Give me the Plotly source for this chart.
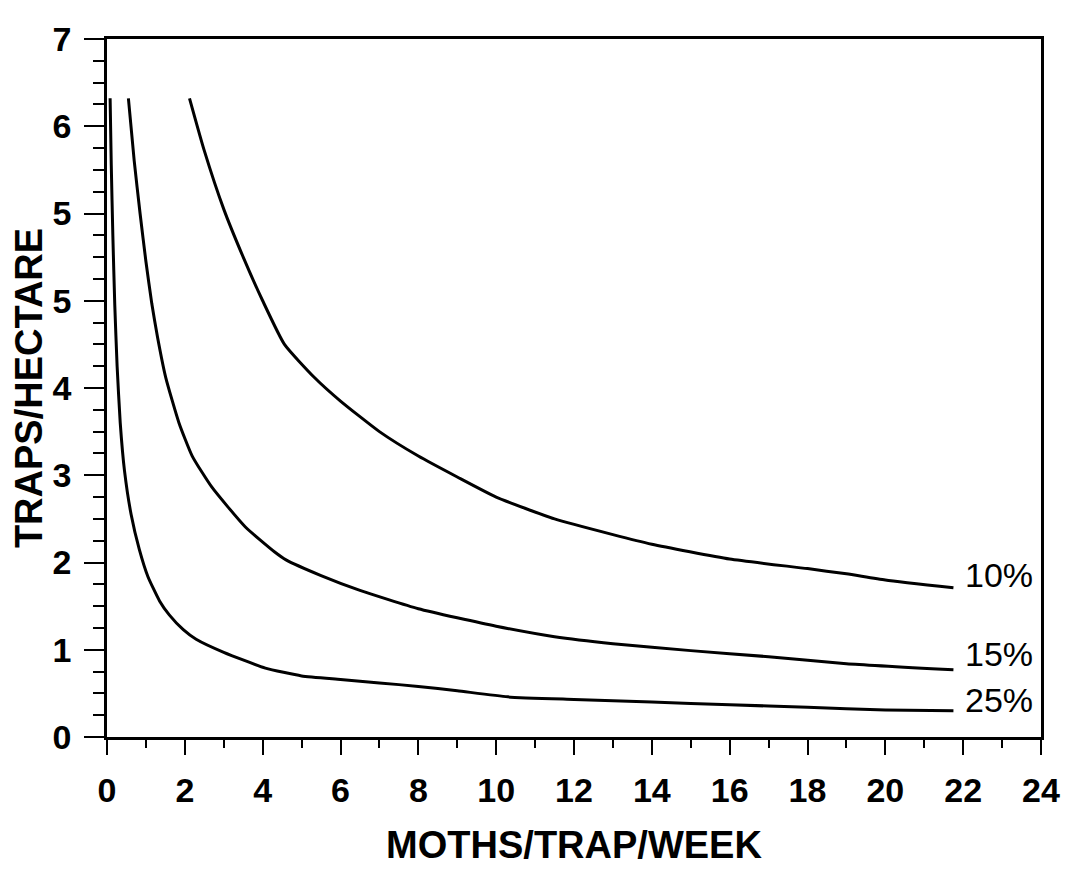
import plotly.graph_objects as go

# ---- data (x = moths/trap/week, y = linear axis units; y tick labels as printed) ----
x10 = [2.12, 2.5, 3.0, 3.5, 4.0, 4.56, 5.33, 6.0, 7.0, 8.0, 9.0, 10.0, 11.5, 13.0, 14.0, 16.0, 18.0, 19.0, 20.0, 21.75]
y10 = [7.32, 6.72, 6.05, 5.5, 5.0, 4.5, 4.12, 3.85, 3.5, 3.22, 2.98, 2.75, 2.5, 2.32, 2.21, 2.04, 1.93, 1.87, 1.8, 1.71]

x15 = [0.55, 0.7, 0.85, 1.0, 1.15, 1.3, 1.51, 1.85, 2.19, 2.7, 3.55, 4.31, 4.6, 5.5, 6.5, 8.0, 10.0, 11.5, 13.0, 15.0, 17.0, 19.0, 21.75]
y15 = [7.32, 6.6, 6.0, 5.45, 4.97, 4.58, 4.12, 3.6, 3.22, 2.86, 2.41, 2.12, 2.03, 1.85, 1.68, 1.47, 1.27, 1.15, 1.07, 0.99, 0.92, 0.84, 0.77]

x25 = [0.08, 0.11, 0.15, 0.2, 0.26, 0.34, 0.45, 0.62, 0.83, 1.05, 1.35, 1.6, 1.96, 2.29, 3.0, 4.07, 5.0, 6.0, 7.0, 8.0, 9.0, 10.3, 12.0, 14.0, 16.0, 18.0, 20.0, 21.75]
y25 = [7.32, 6.55, 5.75, 4.95, 4.25, 3.6, 3.05, 2.55, 2.15, 1.84, 1.56, 1.4, 1.23, 1.12, 0.97, 0.79, 0.70, 0.66, 0.62, 0.58, 0.53, 0.46, 0.43, 0.40, 0.37, 0.34, 0.31, 0.30]

curve_labels = ["10%", "15%", "25%"]
label_x = [22.0, 22.0, 22.0]
label_y = [1.86, 0.95, 0.42]

x_ticks = list(range(0, 25, 2))
y_tickvals = [0, 1, 2, 3, 4, 5, 6, 7, 8]
y_ticktext = ["0", "1", "2", "3", "4", "5", "5", "6", "7"]

x_title = "MOTHS/TRAP/WEEK"
y_title = "TRAPS/HECTARE"

fig = go.Figure()
for xs, ys in [(x10, y10), (x15, y15), (x25, y25)]:
    fig.add_trace(go.Scatter(x=xs, y=ys, mode="lines",
                             line=dict(color="black", width=3, shape="spline", smoothing=0.5),
                             showlegend=False, hoverinfo="skip"))

for t, lx, ly in zip(curve_labels, label_x, label_y):
    fig.add_annotation(x=lx, y=ly, text=t, showarrow=False, xanchor="left", yanchor="middle",
                       font=dict(family="Liberation Sans, Arial, sans-serif", size=34, color="black"))

tickfont = dict(family="Liberation Sans, Arial, sans-serif", size=34, color="black", weight="bold")
titlefont = dict(family="Liberation Sans, Arial, sans-serif", size=38, color="black", weight="bold")

fig.update_layout(
    width=1064, height=863,
    margin=dict(l=94, r=25, t=13, b=130),
    paper_bgcolor="white", plot_bgcolor="white",
    xaxis=dict(range=[0, 24], tickvals=x_ticks, ticks="outside", ticklen=15, tickwidth=2,
               tickcolor="black", showline=True, linecolor="black", linewidth=2.5, mirror=True,
               showgrid=False, zeroline=False, tickfont=tickfont, ticklabelstandoff=6,
               ticklabeloverflow="allow",
               minor=dict(dtick=1, ticks="outside", ticklen=8, tickwidth=2, tickcolor="black", showgrid=False),
               title=dict(text=x_title, font=titlefont, standoff=24)),
    yaxis=dict(range=[0, 8], tickvals=y_tickvals, ticktext=y_ticktext, ticks="outside", ticklen=20,
               tickwidth=2, tickcolor="black", showline=True, linecolor="black", linewidth=2.5, mirror=True,
               showgrid=False, zeroline=False, tickfont=tickfont, ticklabelstandoff=6,
               ticklabeloverflow="allow",
               minor=dict(dtick=0.25, ticks="outside", ticklen=11, tickwidth=2, tickcolor="black", showgrid=False),
               title=dict(text=y_title, font=titlefont, standoff=6)),
)

fig.write_html("out.html")
